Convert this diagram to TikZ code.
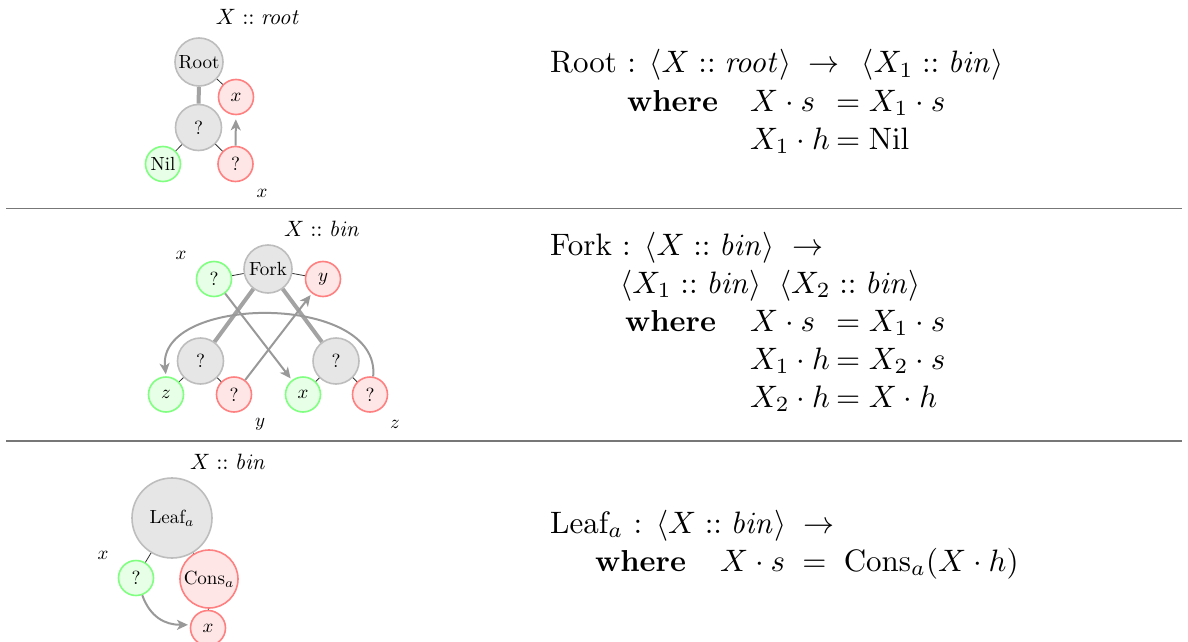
\RequirePackage{fix-cm}
\documentclass[tikz,border=0pt]{standalone}
\usepackage{amsmath}
\usepackage{graphicx}
\usetikzlibrary{arrows.meta}
\definecolor{gfill}{HTML}{E6E6E6}
\definecolor{gdraw}{HTML}{BDBDBD}
\definecolor{nfill}{HTML}{E6FFE6}
\definecolor{ndraw}{HTML}{80FF80}
\definecolor{rfill}{HTML}{FFE6E6}
\definecolor{rdraw}{HTML}{FF8080}
\definecolor{arrc}{HTML}{999999}
\definecolor{thickc}{HTML}{A3A3A3}
\definecolor{sepc}{HTML}{777777}
\newcommand{\ntxt}[1]{\scalebox{1.9}{#1}}
\newcommand{\ltxt}[1]{\scalebox{2.22}{#1}}
\newcommand{\etxt}[1]{\scalebox{3.1}{#1}}
\newcommand{\wtxt}[1]{\scalebox{3.03}{#1}}
\tikzset{
  cnode/.style={circle, inner sep=0pt, line width=1.6pt, font=\fontsize{10}{12}\selectfont},
  gnode/.style={cnode, fill=gfill, draw=gdraw, minimum size=46pt},
  nnode/.style={cnode, fill=nfill, draw=ndraw, minimum size=35pt},
  rnode/.style={cnode, fill=rfill, draw=rdraw, minimum size=35pt},
  tick/.style={draw=black!80, line width=0.8pt},
  thickline/.style={draw=thickc, line width=4pt},
  arr/.style={draw=arrc, line width=2pt, -{Stealth[length=11pt,width=10pt,inset=3pt]}, shorten >=2pt},
  sep/.style={draw=sepc, line width=1.6pt},
  typelab/.style={anchor=base, inner sep=0pt, font=\fontsize{10}{12}\selectfont},
  varlab/.style={inner sep=0pt, font=\fontsize{10}{12}\selectfont},
  eq/.style={anchor=base west, inner sep=0pt, font=\fontsize{10}{12}\selectfont}
}
\begin{document}
\begin{tikzpicture}[x=1pt,y=-1pt]
\useasboundingbox (0,0) rectangle (1188,642);
% separators
\coordinate (s1a) at (6,208.5); \coordinate (s1b) at (1182,208.5);
\coordinate (s2a) at (6,441); \coordinate (s2b) at (1182,441);
\draw[sep] (s1a) -- (s1b);
\draw[sep] (s2a) -- (s2b);

% ---------- Root panel ----------
\node[typelab] (t1) at (258,25) {\ltxt{$X :: \mathit{root}$}};
\node[gnode, minimum size=48pt] (root) at (199,62) {\ntxt{Root}};
\node[gnode] (q1) at (198.5,127.5) {\ntxt{?}};
\node[rnode] (rx) at (236,97) {\ntxt{$x$}};
\node[nnode] (nil) at (163,164) {\ntxt{Nil}};
\node[rnode] (rq) at (235.5,164) {\ntxt{?}};
\node[varlab] (lx1) at (262,193) {\ntxt{$x$}};
\draw[thickline] (root) -- (q1);
\draw[tick] (root) -- (rx);
\draw[tick] (q1) -- (nil);
\draw[tick] (q1) -- (rq);
\draw[arr, shorten >=4pt] (rq) -- (rx);

\node[eq] (e11) at (550,73) {\etxt{Root : $\langle X :: \mathit{root}\rangle \;\to\;\, \langle X_1 :: \mathit{bin}\rangle$}};
\node[eq] (e12) at (627,111) {\wtxt{\textbf{where}}};
\node[eq] (e13) at (750,111) {\etxt{$X\cdot s$}};
\node[eq] (e14) at (836,111) {\etxt{$=X_1\cdot s$}};
\node[eq] (e15) at (750,149) {\etxt{$X_1\cdot h$}};
\node[eq] (e16) at (836,149) {\etxt{$=\mathrm{Nil}$}};

% ---------- Fork panel ----------
\node[typelab] (t2) at (322,236) {\ltxt{$X :: \mathit{bin}$}};
\node[gnode, minimum size=48pt] (fork) at (268,269) {\ntxt{Fork}};
\node[nnode] (gq) at (214,279) {\ntxt{?}};
\node[rnode] (ry) at (323,279) {\ntxt{$y$}};
\node[gnode] (lq) at (200.5,361) {\ntxt{?}};
\node[gnode] (rg) at (336,361) {\ntxt{?}};
\node[nnode] (gz) at (166,394.5) {\ntxt{$z$}};
\node[rnode] (rq1) at (234,394.5) {\ntxt{?}};
\node[nnode] (gx) at (303,394.5) {\ntxt{$x$}};
\node[rnode] (rq2) at (370,394.5) {\ntxt{?}};
\node[varlab] (lx2) at (181,255) {\ntxt{$x$}};
\node[varlab] (ly2) at (260,424) {\ntxt{$y$}};
\node[varlab] (lz2) at (395,424) {\ntxt{$z$}};
\draw[tick] (fork) -- (gq);
\draw[tick] (fork) -- (ry);
\draw[tick] (lq) -- (gz);
\draw[tick] (lq) -- (rq1);
\draw[tick] (rg) -- (gx);
\draw[tick] (rg) -- (rq2);
\draw[thickline] (fork) -- (lq);
\draw[thickline] (fork) -- (rg);
\draw[arr] (gq) -- (gx);
\draw[arr] (rq1) -- (ry);
\draw[arr] (rq2.80) .. controls +(8,-84) and +(-9,-82) .. (gz.north);

\node[eq] (e21) at (550,255) {\etxt{Fork : $\langle X :: \mathit{bin}\rangle \;\to$}};
\node[eq] (e22) at (620,293) {\etxt{$\langle X_1 :: \mathit{bin}\rangle \;\; \langle X_2 :: \mathit{bin}\rangle$}};
\node[eq] (e23) at (625,331) {\wtxt{\textbf{where}}};
\node[eq] (e24) at (750,331) {\etxt{$X\cdot s$}};
\node[eq] (e25) at (836,331) {\etxt{$=X_1\cdot s$}};
\node[eq] (e26) at (750,369) {\etxt{$X_1\cdot h$}};
\node[eq] (e27) at (836,369) {\etxt{$=X_2\cdot s$}};
\node[eq] (e28) at (750,407) {\etxt{$X_2\cdot h$}};
\node[eq] (e29) at (836,407) {\etxt{$=X\cdot h$}};

% ---------- Leaf panel ----------
\node[typelab] (t3) at (228,469) {\ltxt{$X :: \mathit{bin}$}};
\node[gnode, minimum size=80pt] (leaf) at (172,518) {\ntxt{Leaf$_a$}};
\node[nnode] (lq3) at (136,578) {\ntxt{?}};
\node[rnode, minimum size=58pt] (cons) at (209,579) {\ntxt{Cons$_a$}};
\node[rnode] (lx3) at (208,628) {\ntxt{$x$}};
\node[varlab] (lab3) at (103,555) {\ntxt{$x$}};
\draw[tick] (leaf) -- (lq3);
\draw[tick] (leaf) -- (cons);
\draw[tick] (cons) -- (lx3);
\draw[arr] (lq3.-70) .. controls +(8,22) and +(-25,0) .. (lx3.170);

\node[eq] (e31) at (550,533) {\etxt{Leaf$_a$ : $\langle X :: \mathit{bin}\rangle \;\to$}};
\node[eq] (e32) at (595,571) {\wtxt{\textbf{where}}};
\node[eq] (e33) at (720,571) {\etxt{$X\cdot s \;=\; \mathrm{Cons}_a(X\cdot h)$}};
\end{tikzpicture}
\end{document}
